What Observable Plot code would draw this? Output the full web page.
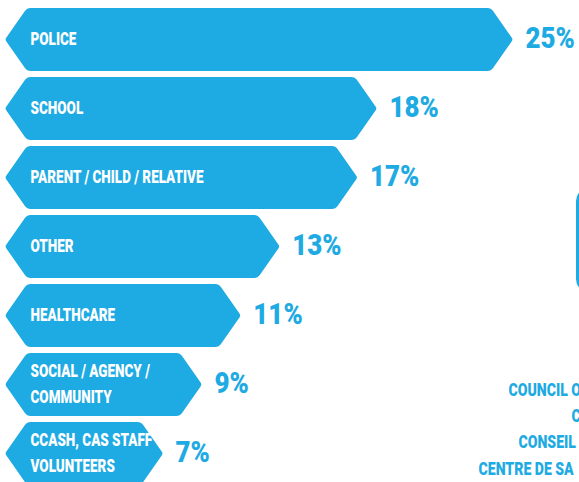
<!DOCTYPE html>
<html><head><meta charset="utf-8">
<script src="https://cdn.jsdelivr.net/npm/d3@7"></script>
<script src="https://cdn.jsdelivr.net/npm/@observablehq/plot@0.6"></script>
<style>
body{margin:0;background:#fff;}
#chart svg{display:block;}
</style></head><body><div id="chart"></div>
<script>
const categories = ["POLICE","SCHOOL","PARENT / CHILD / RELATIVE","OTHER","HEALTHCARE","SOCIAL / AGENCY /\nCOMMUNITY","CCASH, CAS STAFF\nVOLUNTEERS"];
const values = [25,18,17,13,11,9,7];
const valueLabels = ["25%","18%","17%","13%","11%","9%","7%"];
const sideLines = ["COUNCIL O","C","CONSEIL","CENTRE DE SA"];

const BLUE = "#1eaae2";
const FONT = "Roboto,'Liberation Sans',sans-serif";
const data = categories.map((c,i)=>({category:c, value:values[i], label:valueLabels[i]}));

function roundedPolygon(pts, radii) {
  const p = d3.path();
  const n = pts.length;
  p.moveTo((pts[n-1][0]+pts[0][0])/2, (pts[n-1][1]+pts[0][1])/2);
  for (let i=0;i<n;i++){ const a=pts[i], b=pts[(i+1)%n]; p.arcTo(a[0],a[1],b[0],b[1],radii[i]); }
  p.closePath();
  return p.toString();
}

const CAP = 22;
function hexMark(index, scales, channels, dims) {
  const g = d3.create("svg:g");
  const x = scales.x, y = scales.y;
  const bw = y.bandwidth ? y.bandwidth() : 63;
  for (const d of data) {
    const top = y(d.category), bot = top + bw, cy = top + bw/2;
    const L = x(0) - CAP, R = x(d.value);
    const pts = [[L,cy],[L+CAP,top],[R-CAP,top],[R,cy],[R-CAP,bot],[L+CAP,bot]];
    g.append("path").attr("d", roundedPolygon(pts,[3,7,7,3,7,7])).attr("fill", BLUE);
  }
  g.append("rect").attr("x", dims.width - 1.5).attr("y", 189).attr("width", 60).attr("height", 102)
    .attr("rx", 12).attr("fill", "none").attr("stroke", BLUE).attr("stroke-width", 3);
  return g.node();
}

const sideOffsets = [[-5,-87],[58,-61],[5,-34.3],[-35,-7.7]];
const sideMarks = sideLines.map((t,i)=>Plot.text([t], {
  frameAnchor:"bottom-right", text:d=>d, textAnchor:"start", lineAnchor:"bottom",
  dx:sideOffsets[i][0], dy:sideOffsets[i][1], fill:BLUE, fontSize:18.3, fontWeight:900, className:"side"
}));

const chart = Plot.plot({
  width:579, height:482, marginTop:0, marginBottom:0, marginLeft:27, marginRight:66,
  x:{domain:[0,25], range:[27,513], axis:null},
  y:{type:"band", domain:categories, range:[3.9,488.3], paddingInner:0.09, paddingOuter:0.045, axis:null},
  style:{fontFamily:FONT, background:"white"},
  marks:[
    hexMark,
    Plot.text(data, {x:0, y:"category", text:"category", textAnchor:"start", dx:3, dy:-3, fill:"white", fontSize:19, fontWeight:900, lineHeight:1.32, className:"lab"}),
    Plot.text(data, {x:"value", y:"category", text:"label", textAnchor:"start", dx:12, dy:-1.5, fill:BLUE, fontSize:29.5, fontWeight:900, className:"val"}),
    ...sideMarks
  ]
});

function squeeze(sel, s) {
  d3.select(chart).selectAll(sel).each(function() {
    const t = d3.select(this);
    const xa = this.getAttribute("x");
    if (xa != null) t.attr("x", (+xa) / s);
    t.attr("transform", (this.getAttribute("transform") || "") + ` scale(${s},1)`);
  });
}
squeeze("g.lab text", 0.71);
squeeze("g.val text", 0.88);
squeeze("g.side text", 0.77);
document.getElementById("chart").append(chart);
</script></body></html>
